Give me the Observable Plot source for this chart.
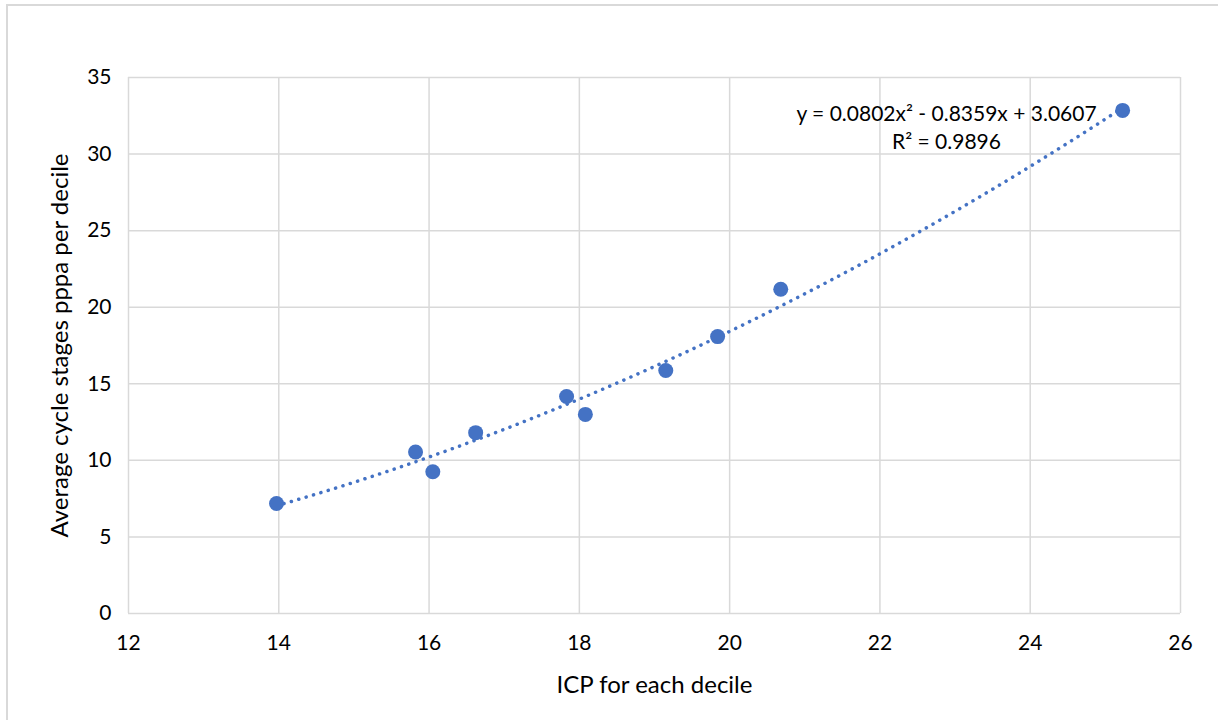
<!DOCTYPE html>
<html>
<head>
<meta charset="utf-8">
<script src="https://cdn.jsdelivr.net/npm/d3@7"></script>
<script src="https://cdn.jsdelivr.net/npm/@observablehq/plot@0.6"></script>
<style>
  html, body { margin: 0; padding: 0; background: #fff; }
  #wrap { position: relative; width: 1218px; height: 720px; overflow: hidden; }
  #border { position: absolute; left: 6px; top: 4px; width: 1230px; height: 740px;
            border-top: 2px solid #d9d9d9; border-left: 2px solid #d9d9d9; box-sizing: border-box; }
  #chart { position: absolute; left: 0; top: 0; }
</style>
</head>
<body>
<div id="wrap"><div id="border"></div><div id="chart"></div></div>
<script>
// Data
const icp = [13.97, 15.82, 16.05, 16.62, 17.83, 18.08, 19.15, 19.84, 20.68, 25.23];
const stages = [7.18, 10.55, 9.26, 11.81, 14.17, 13.0, 15.87, 18.08, 21.17, 32.85];
// Displayed polynomial trendline coefficients (a x^2 + b x + c)
const trendCoef = [0.0802, -0.8359, 3.0607];
const trendLabel = ["y = 0.0802x\u00B2 - 0.8359x + 3.0607", "R\u00B2 = 0.9896"];
const xTicks = [12, 14, 16, 18, 20, 22, 24, 26];
const yTicks = [0, 5, 10, 15, 20, 25, 30, 35];
const xTitle = "ICP for each decile";
const yTitle = "Average cycle stages pppa per decile";

const points = icp.map((x, i) => ({x, y: stages[i]}));
const xMin = d3.min(icp), xMax = d3.max(icp);
const trend = d3.range(0, 101).map(i => {
  const x = xMin + (xMax - xMin) * i / 100;
  return {x, y: trendCoef[0] * x * x + trendCoef[1] * x + trendCoef[2]};
});

const blue = "#4472C4";
const grid = "#d9d9d9";
const font = "Lato, 'Open Sans', sans-serif";

const chart = Plot.plot({
  width: 1218,
  height: 720,
  marginLeft: 128,
  marginRight: 38,
  marginTop: 77,
  marginBottom: 107,
  style: {fontFamily: font, fontSize: "21px", color: "#000", background: "transparent"},
  x: {domain: [12, 26]},
  y: {domain: [0, 35]},
  marks: [
    Plot.gridX(xTicks, {stroke: grid, strokeOpacity: 1, strokeWidth: 1.5}),
    Plot.gridY(yTicks, {stroke: grid, strokeOpacity: 1, strokeWidth: 1.5}),
    Plot.axisX(xTicks, {tickSize: 0, tickPadding: 22, fontSize: 21, label: null}),
    Plot.axisY(yTicks, {tickSize: 0, tickPadding: 17, fontSize: 21, label: null}),
    Plot.line(trend, {x: "x", y: "y", stroke: blue, strokeWidth: 3.5,
      strokeDasharray: "0.1 7.6", strokeLinecap: "round"}),
    Plot.dot(points, {x: "x", y: "y", r: 7.5, fill: blue, stroke: "none"}),
    Plot.text([trendLabel[0]], {frameAnchor: "top-right", dx: -234, dy: 37, textAnchor: "middle",
      lineAnchor: "middle", fontSize: 21, fill: "#000"}),
    Plot.text([trendLabel[1]], {frameAnchor: "top-right", dx: -234, dy: 65, textAnchor: "middle",
      lineAnchor: "middle", fontSize: 21, fill: "#000"}),
    Plot.text([xTitle], {frameAnchor: "bottom", dy: 72, lineAnchor: "middle", fontSize: 24, fill: "#000"}),
    Plot.text([yTitle], {frameAnchor: "left", dx: -68, rotate: -90, textAnchor: "middle",
      lineAnchor: "middle", fontSize: 24, fill: "#000"})
  ]
});
document.getElementById("chart").appendChild(chart);
</script>
</body>
</html>
